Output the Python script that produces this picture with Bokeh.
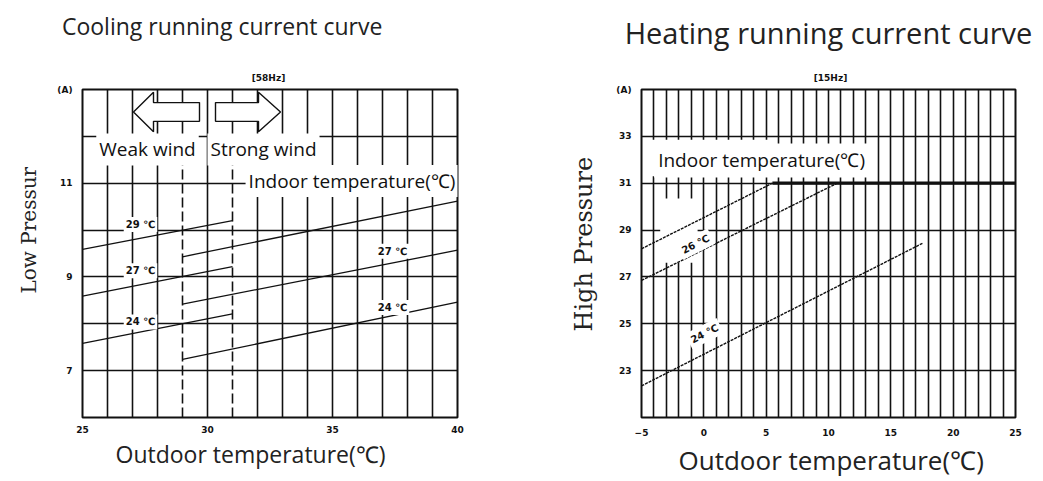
from bokeh.plotting import figure
from bokeh.layouts import row
from bokeh.models import Range1d, FixedTicker, Label, Title, LinearAxis
from bokeh.embed import file_html
from bokeh.resources import INLINE
import math

# ---------------- data ----------------
# Cooling chart (left)
COOL_X_TICKS = [25, 30, 35, 40]
COOL_Y_TICKS = [7, 9, 11, 13]
COOL_Y_TICK_LABELS = ["7", "9", "11", "(A)"]
COOL_WEAK_X = [25, 31]
COOL_WEAK_29 = [9.59, 10.20]
COOL_WEAK_27 = [8.59, 9.22]
COOL_WEAK_24 = [7.58, 8.21]
COOL_STRONG_X = [29, 40]
COOL_STRONG_29 = [9.43, 10.62]
COOL_STRONG_27 = [8.42, 9.57]
COOL_STRONG_24 = [7.24, 8.46]
WIND_SWITCH_X = [29, 31]

# Heating chart (right)
HEAT_X_TICKS = [-5, 0, 5, 10, 15, 20, 25]
HEAT_Y_TICKS = [23, 25, 27, 29, 31, 33, 35]
HEAT_Y_TICK_LABELS = ["23", "25", "27", "29", "31", "33", "(A)"]
HEAT_UPPER_X = [-5, 5.5]
HEAT_UPPER_Y = [28.2, 31.0]
HEAT_MID_X = [-5, 10.7]
HEAT_MID_Y = [26.85, 31.0]
HEAT_LOW_X = [-5, 17.6]
HEAT_LOW_Y = [22.35, 28.45]
HEAT_LIMIT_X = [5.5, 25]
HEAT_LIMIT_Y = [31.0, 31.0]

INK = "#111111"
TXT = "#222222"
SANS = "Open Sans"
SERIF = "DejaVu Serif"
TICKFONT = "DejaVu Sans"
NBSP = "\u00a0"


def base_fig(width, xr, yr, left, right, x_standoff):
    p = figure(width=width, height=478, x_range=Range1d(*xr), y_range=Range1d(*yr),
               output_backend="svg", toolbar_location=None, tools="", title=None,
               min_border_left=left, min_border_right=right,
               min_border_top=89, min_border_bottom=56)
    p.background_fill_color = "white"
    p.border_fill_color = "white"
    p.outline_line_color = INK
    p.outline_line_width = 2
    for ax in (p.xaxis, p.yaxis):
        ax.axis_line_color = None
        ax.major_tick_line_color = None
        ax.minor_tick_line_color = None
        ax.major_label_text_font = TICKFONT
        ax.major_label_text_font_style = "bold"
        ax.major_label_text_font_size = "9px"
        ax.major_label_text_color = INK
    p.xaxis.major_label_standoff = x_standoff
    p.yaxis.major_label_standoff = 4
    for g in (p.xgrid, p.ygrid):
        g.grid_line_color = INK
        g.grid_line_width = 1.6
    return p


def text_title(text, font, size, align="left", offset=0, standoff=0):
    return Title(text=text, align=align, offset=offset, standoff=standoff, text_font=font,
                 text_font_size=size, text_font_style="normal", text_color=TXT)


def decorate(p, sub_x, sub, main, main_size, main_standoff,
             xlab, xlab_size, xlab_offset, xlab_standoff,
             ylab, ylab_size, ylab_offset, ylab_standoff):
    top = LinearAxis(ticker=FixedTicker(ticks=[sub_x]), major_label_overrides={sub_x: sub},
                     axis_line_color=None, major_tick_line_color=None,
                     minor_tick_line_color=None, major_tick_out=0, major_tick_in=0,
                     major_label_text_font=TICKFONT, major_label_text_font_size="9px",
                     major_label_text_font_style="bold", major_label_text_color=INK,
                     major_label_standoff=7, axis_label=main, axis_label_text_font=SANS,
                     axis_label_text_font_size=main_size, axis_label_text_font_style="normal",
                     axis_label_text_color=TXT, axis_label_standoff=main_standoff)
    p.add_layout(top, "above")
    p.add_layout(text_title(xlab, SANS, xlab_size, offset=xlab_offset,
                            standoff=xlab_standoff), "below")
    p.add_layout(text_title(ylab, SERIF, ylab_size, offset=ylab_offset,
                            standoff=ylab_standoff), "left")


def lab(p, x, y, text, size, font=SANS, style="normal", angle=0, bg=None, pad=0):
    l = Label(x=x, y=y, text=text, text_font=font, text_font_size=size,
              text_font_style=style, text_align="center", text_baseline="middle",
              angle=angle, text_color=INK)
    if bg:
        l.background_fill_color = bg
        l.padding = pad
    p.add_layout(l)


# ---------------- left: cooling ----------------
p1 = base_fig(528, (25, 40), (6, 13), 82, 71, 2)
p1.xaxis.ticker = FixedTicker(ticks=COOL_X_TICKS)
p1.yaxis.ticker = FixedTicker(ticks=COOL_Y_TICKS)
p1.yaxis.major_label_overrides = {t: s for t, s in zip(COOL_Y_TICKS, COOL_Y_TICK_LABELS)}
p1.xgrid.ticker = FixedTicker(ticks=[v for v in range(26, 40) if v not in WIND_SWITCH_X])
p1.ygrid.ticker = FixedTicker(ticks=list(range(7, 13)))
decorate(p1, 32.44, "[58Hz]", "Cooling running current curve" + NBSP * 16, "23px", 28,
         "Outdoor temperature(℃)", "23px", 33, 0,
         "Low Pressur", "20px", 124, 27)

# wind switch lines (dashed below, solid on top)
for xv in WIND_SWITCH_X:
    p1.line([xv, xv], [6, 12.0], line_color=INK, line_width=1.6, line_dash="10 4")
    p1.line([xv, xv], [12.0, 13], line_color=INK, line_width=1.6)

# arrows
arrow_cy, head_h, shaft_h = 12.52, 0.42, 0.2
arrows = [(27.04, 27.84, 29.68), (32.92, 32.04, 30.32)]
axs, ays = [], []
for tip, base, end in arrows:
    axs.append([tip, base, base, end, end, base, base])
    ays.append([arrow_cy, arrow_cy + head_h, arrow_cy + shaft_h, arrow_cy + shaft_h,
                arrow_cy - shaft_h, arrow_cy - shaft_h, arrow_cy - head_h])
p1.patches(axs, ays, fill_color="white", line_color=INK, line_width=1.4)

for ys in (COOL_WEAK_29, COOL_WEAK_27, COOL_WEAK_24):
    p1.line(COOL_WEAK_X, ys, line_color=INK, line_width=1.3)
for ys in (COOL_STRONG_29, COOL_STRONG_27, COOL_STRONG_24):
    p1.line(COOL_STRONG_X, ys, line_color=INK, line_width=1.3)

lab(p1, 27.6, 11.72, "Weak wind", "19px", bg="white", pad=3)
lab(p1, 32.24, 11.72, "Strong wind", "19px", bg="white", pad=3)
lab(p1, 35.78, 11.045, "Indoor temperature(℃)", "19px", bg="white", pad=3)
for x, y, t in [(27.32, 10.12, "29 ℃"), (27.32, 9.13, "27 ℃"), (27.32, 8.04, "24 ℃"),
                (37.4, 9.55, "27 ℃"), (37.4, 8.35, "24 ℃")]:
    lab(p1, x, y, t, "10px", font=TICKFONT, style="bold", bg="white", pad=2)

# ---------------- right: heating ----------------
p2 = base_fig(515, (-5, 25), (21, 35), 113, 28, 5)
p2.xaxis.ticker = FixedTicker(ticks=HEAT_X_TICKS)
p2.yaxis.ticker = FixedTicker(ticks=HEAT_Y_TICKS)
p2.yaxis.major_label_overrides = {t: s for t, s in zip(HEAT_Y_TICKS, HEAT_Y_TICK_LABELS)}
p2.xgrid.ticker = FixedTicker(ticks=list(range(-4, 25)))
p2.ygrid.ticker = FixedTicker(ticks=HEAT_Y_TICKS[:-1])
decorate(p2, 10.16, "[15Hz]", "Heating running current curve", "29px", 18,
         "Outdoor temperature(℃)", "26px", 37, 2,
         "High Pressure", "24px", 86, 32)

# erased areas of the scanned grid
p2.quad(left=[-4.6, -3.5], right=[5.35, -0.5], bottom=[31.3, 27.6], top=[32.85, 30.35],
        fill_color="white", line_color=None)

p2.line(HEAT_UPPER_X, HEAT_UPPER_Y, line_color=INK, line_width=1.4, line_dash="3 1")
p2.line(HEAT_MID_X, HEAT_MID_Y, line_color=INK, line_width=1.4, line_dash="3 1")
p2.line(HEAT_LOW_X, HEAT_LOW_Y, line_color=INK, line_width=1.4, line_dash="3 1")
p2.line(HEAT_LIMIT_X, HEAT_LIMIT_Y, line_color=INK, line_width=3.2)

lab(p2, 4.63, 31.97, "Indoor temperature(℃)", "19px", bg="white", pad=4)
rot = math.radians(27)
lab(p2, -0.67, 28.4, "26 ℃", "10px", font=TICKFONT, style="bold", angle=rot, bg="white", pad=3)
lab(p2, 0.05, 24.58, "24 ℃", "10px", font=TICKFONT, style="bold", angle=rot, bg="white", pad=3)

layout = row(p1, p2)
open("out.html", "w").write(file_html(layout, INLINE))
